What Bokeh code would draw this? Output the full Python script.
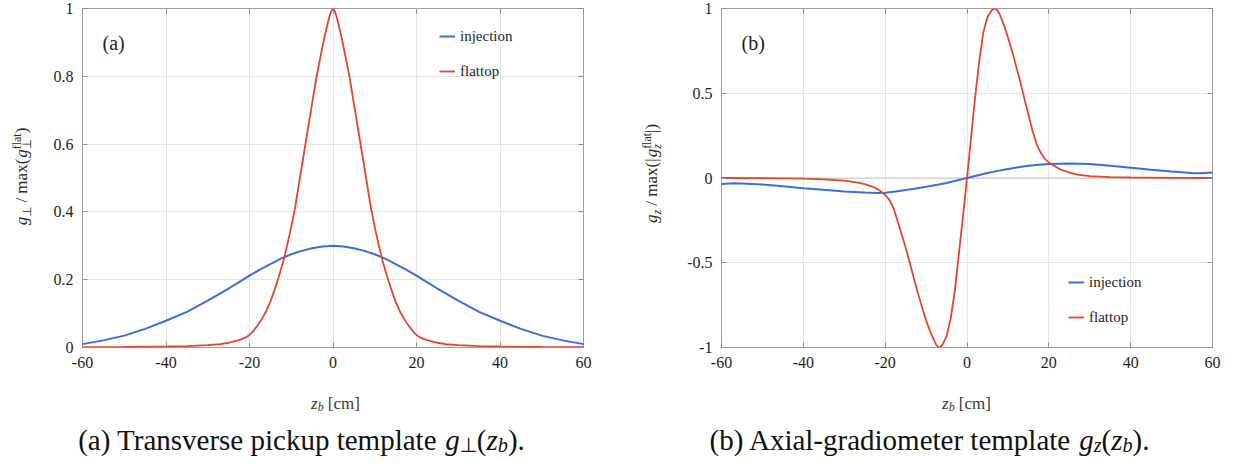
import math
from bokeh.plotting import figure
from bokeh.models import (Range1d, LinearAxis, Legend, LegendItem, Label, Span,
                          FixedTicker)
from bokeh.layouts import row, column
from bokeh.embed import file_html
from bokeh.resources import INLINE

# ---------------- data ----------------
# panel (a): transverse pickup template
z_inj_a = [-60, -55, -50, -45, -40, -35, -30, -25, -22.5, -20, -17.5, -15, -12.5, -10, -7.5, -5,
           -2.5, 0, 2.5, 5, 7.5, 10, 12.5, 15, 17.5, 20, 22.5, 25, 30, 35, 40, 45, 50, 55, 60]
g_inj_a = [0.010, 0.021, 0.035, 0.055, 0.079, 0.105, 0.138, 0.174, 0.193, 0.212, 0.230, 0.246,
           0.262, 0.275, 0.285, 0.293, 0.298, 0.300, 0.298, 0.293, 0.285, 0.275, 0.262, 0.246,
           0.230, 0.212, 0.193, 0.174, 0.138, 0.105, 0.079, 0.055, 0.035, 0.021, 0.010]

z_flat_a = [-60, -50, -40, -35, -30, -27, -25, -23, -22, -21, -20, -19, -18, -17, -16, -15, -14,
            -13, -12, -11, -10, -9, -8, -7, -6, -5, -4, -3, -2, -1, -0.5, 0,
            0.5, 1, 2, 3, 4, 5, 6, 7, 8, 9, 10, 11, 12, 13, 14, 15, 16, 17, 18, 19, 20, 21, 22, 23,
            25, 27, 30, 35, 40, 50, 60]
g_flat_a = [0.001, 0.0015, 0.003, 0.004, 0.007, 0.010, 0.014, 0.020, 0.024, 0.029, 0.037, 0.050,
            0.066, 0.085, 0.107, 0.135, 0.170,
            0.208, 0.250, 0.300, 0.355, 0.418, 0.495, 0.570, 0.645, 0.720, 0.795, 0.858, 0.918,
            0.970, 0.990, 1.000,
            0.990, 0.970, 0.918, 0.858, 0.795, 0.720, 0.645, 0.570, 0.495, 0.418, 0.355, 0.300,
            0.250, 0.208, 0.170, 0.135, 0.107, 0.085, 0.066, 0.050, 0.037, 0.029, 0.024, 0.020,
            0.014, 0.010, 0.007, 0.004, 0.003, 0.0015, 0.001]

# panel (b): axial-gradiometer template
z_inj_b = [-60, -57, -55, -50, -45, -40, -35, -30, -25, -22, -20, -17.5, -15, -12.5, -10, -7.5,
           -5, -2.5, 0, 2.5, 5, 7.5, 10, 12.5, 15, 17.5, 20, 25, 30, 35, 40, 45, 50, 55, 57, 60]
g_inj_b = [-0.035, -0.031, -0.032, -0.039, -0.049, -0.060, -0.070, -0.079, -0.086, -0.088,
           -0.087, -0.080, -0.071, -0.062, -0.052, -0.041, -0.030, -0.015, 0.000,
           0.015, 0.029, 0.042, 0.053, 0.063, 0.072, 0.078, 0.083, 0.086, 0.082, 0.072, 0.060,
           0.048, 0.038, 0.030, 0.028, 0.033]

z_flat_b = [-60, -50, -40, -35, -30, -27, -25, -23, -22, -21, -20, -19, -18, -17, -16, -15, -14,
            -13, -12, -11, -10, -9, -8, -7.5, -7, -6.5, -6, -5, -4, -3, -2, -1, 0,
            1, 2, 3, 4, 5, 6, 6.5, 7, 7.5, 8, 9, 10, 11, 12, 13, 14, 15, 16, 17, 18, 19, 20, 21,
            22, 23, 25, 27, 30, 35, 40, 50, 60]
g_flat_b = [0.0, -0.001, -0.004, -0.008, -0.016, -0.026, -0.036, -0.052, -0.064, -0.080, -0.100,
            -0.127, -0.175, -0.250, -0.330, -0.410, -0.500,
            -0.590, -0.680, -0.760, -0.840, -0.905, -0.960, -0.985, -0.998, -0.997, -0.985,
            -0.935, -0.830, -0.670, -0.450, -0.230, 0.000,
            0.240, 0.480, 0.690, 0.860, 0.950, 0.988, 0.998, 0.998, 0.988, 0.965, 0.905, 0.830,
            0.750, 0.660, 0.570, 0.470, 0.375, 0.280, 0.200, 0.150, 0.113, 0.092, 0.077,
            0.062, 0.049, 0.031, 0.020, 0.011, 0.005, 0.003, 0.001, 0.0]

x_ticks = [-60, -40, -20, 0, 20, 40, 60]
x_tick_labels = ["-60", "-40", "-20", "0", "20", "40", "60"]
y_ticks_a = [0, 0.2, 0.4, 0.6, 0.8, 1]
y_tick_labels_a = ["0", "0.2", "0.4", "0.6", "0.8", "1"]
y_ticks_b = [-1, -0.5, 0, 0.5, 1]
y_tick_labels_b = ["-1", "-0.5", "0", "0.5", "1"]

series_names = ["injection", "flattop"]

# ---------------- styles ----------------
SERIF = "Liberation Serif"
SYM = "DejaVu Sans"
BLUE = "#3c6ddb"
RED = "#e0472c"
TXT = "#1e1e1e"
TOP_ROW_H, BORDER_TOP, BORDER_BOTTOM = 385, 8, 38

ROMAN = {' ': .25, '(': .333, ')': .333, '.': .25, '-': .333, '/': .278, '[': .333, ']': .333,
         '|': .2, 'A': .722, 'T': .611, 'a': .444, 'b': .5, 'c': .444, 'd': .5, 'e': .444,
         'f': .333, 'g': .5, 'i': .278, 'k': .5, 'l': .278, 'm': .778, 'n': .5, 'o': .5,
         'p': .5, 'r': .333, 's': .389, 't': .278, 'u': .5, 'v': .5, 'x': .5}
ITALIC = {'g': .5, 'z': .389, 'b': .5}


def piece_width(txt, italic, font, size):
    if font == SYM:
        return 0.838 * size * len(txt)
    table = ITALIC if italic else ROMAN
    return sum(table.get(c, 0.5) for c in txt) * size


def compose(p, pieces, ax, ay, size, rotated=False, color=TXT):
    """Place a run of text pieces (normal / sub / stacked sup) centred on (ax, ay)."""
    items = []
    pos = 0.0
    last_start, last_end = 0.0, 0.0
    for piece in pieces:
        txt, kind, italic, font = piece[:4]
        pre = piece[4] if len(piece) > 4 else 0.0
        fs = size * 0.7 if kind != "n" else size
        w = piece_width(txt, italic, font, fs)
        if kind == "supstack":
            start = last_start
            off = 0.42 * size
            end = max(last_end, start + w)
        else:
            start = pos + pre * size
            off = {"n": 0.0, "sub": -0.2 * size, "sup": 0.42 * size}[kind]
            end = start + w
        lead = len(txt) - len(txt.lstrip(" "))
        shift = piece_width(" " * lead, italic, font, fs) if lead else 0.0
        items.append((txt.strip(" "), italic, font, fs, start + shift, off))
        last_start, last_end = start, end
        pos = max(pos, end)
    total = pos
    for txt, italic, font, fs, start, off in items:
        style = "italic" if italic else "normal"
        if rotated:
            asc = 0.9 * fs
            x = ax - off - asc
            y = ay - total / 2 + start
            p.add_layout(Label(x=x, y=y, text=txt, text_font=font,
                               text_font_size=f"{fs:.1f}px", text_font_style=style,
                               text_color=color, text_baseline="top",
                               text_align="left", angle=math.pi / 2))
        else:
            x, y = ax - total / 2 + start, ay + off
            p.add_layout(Label(x=x, y=y, text=txt, text_font=font,
                               text_font_size=f"{fs:.1f}px", text_font_style=style,
                               text_color=color, text_baseline="alphabetic",
                               text_align="left"))


def blank(w, h, bt=0, bb=0):
    # data units = pixels measured from the bottom-left corner of the canvas
    b = figure(width=w, height=h, x_range=Range1d(0, w), y_range=Range1d(bb, h - bt),
               x_axis_type=None, y_axis_type=None, output_backend="svg",
               toolbar_location=None, min_border_left=0, min_border_right=0,
               min_border_top=bt, min_border_bottom=bb, outline_line_color=None,
               background_fill_color="white", border_fill_color="white")
    return b


def style_axis(ax, ticks, labels=None):
    ax.ticker = FixedTicker(ticks=ticks)
    ax.major_tick_in = 5
    ax.major_tick_out = 0
    ax.minor_tick_line_color = None
    ax.axis_line_color = None
    ax.major_tick_line_color = "#8c8c8c"
    ax.major_label_text_font = SERIF
    if labels is None:
        ax.major_label_text_color = None
        ax.major_label_text_font_size = "1px"
        ax.major_label_standoff = 0
    else:
        ax.major_label_text_color = TXT
        ax.major_label_text_font_size = "16px"
        ax.major_label_standoff = 9
        ax.major_label_overrides = {t: l for t, l in zip(ticks, labels)}


def make_panel(width, yr, yticks, ylabels, borders, legend_loc, tag, zinj, ginj, zflat, gflat):
    bl, br = borders
    p = figure(width=width, height=TOP_ROW_H, x_range=Range1d(-60, 60), y_range=Range1d(*yr),
               output_backend="svg", toolbar_location=None,
               min_border_left=bl, min_border_right=br, min_border_top=BORDER_TOP,
               min_border_bottom=BORDER_BOTTOM,
               background_fill_color="white", border_fill_color="white",
               outline_line_color="#a0a0a0", outline_line_width=1)
    style_axis(p.xaxis[0], x_ticks, x_tick_labels)
    style_axis(p.yaxis[0], yticks, ylabels)
    top = LinearAxis()
    style_axis(top, x_ticks)
    p.add_layout(top, "above")
    right = LinearAxis()
    style_axis(right, yticks)
    p.add_layout(right, "right")
    p.xgrid.ticker = FixedTicker(ticks=x_ticks)
    p.ygrid.ticker = FixedTicker(ticks=yticks)
    for g in (p.xgrid, p.ygrid):
        g.grid_line_color = "#e6e6e6"
        g.grid_line_width = 1
    r1 = p.line(zinj, ginj, line_color=BLUE, line_width=2.0)
    r2 = p.line(zflat, gflat, line_color=RED, line_width=1.8)
    leg = Legend(items=[LegendItem(label=series_names[0], renderers=[r1]),
                        LegendItem(label=series_names[1], renderers=[r2])],
                 location=legend_loc, border_line_color=None, background_fill_alpha=0,
                 padding=0, margin=0, spacing=15, glyph_width=16, glyph_height=20,
                 label_height=20, label_standoff=5, label_text_font=SERIF,
                 label_text_font_size="15px", label_text_color=TXT)
    p.add_layout(leg)
    p.add_layout(Label(x=20, y=305, x_units="screen", y_units="screen", text=tag,
                       text_font=SERIF, text_font_size="20px", text_color=TXT,
                       text_baseline="alphabetic"))
    return p


pa = make_panel(568, (0, 1), y_ticks_a, y_tick_labels_a, (32, 35), (357, 266), "(a)",
                z_inj_a, g_inj_a, z_flat_a, g_flat_a)
pb = make_panel(558, (-1, 1), y_ticks_b, y_tick_labels_b, (43, 24), (347, 20), "(b)",
                z_inj_b, g_inj_b, z_flat_b, g_flat_b)
pb.add_layout(Span(location=0, dimension="width", line_color="#9a9a9a", line_width=1,
                   line_dash="1 1", level="underlay"))

# y-axis label strips (same top/bottom borders as the panels next to them)
ya = blank(50, TOP_ROW_H, BORDER_TOP, BORDER_BOTTOM)
yb = blank(60, TOP_ROW_H, BORDER_TOP, BORDER_BOTTOM)
ylab_a = [("g", "n", True, SERIF), ("\u22a5", "sub", False, SYM), (" / max(", "n", False, SERIF),
          ("g", "n", True, SERIF, 0.06), ("\u22a5", "sub", False, SYM),
          ("flat", "supstack", False, SERIF), (")", "n", False, SERIF)]
ylab_b = [("g", "n", True, SERIF), ("z", "sub", True, SERIF), (" / max(|", "n", False, SERIF),
          ("g", "n", True, SERIF, 0.06), ("z", "sub", True, SERIF),
          ("flat", "supstack", False, SERIF), ("|)", "n", False, SERIF)]
compose(ya, ylab_a, 27, 209, 17, rotated=True, color="#2a2a2a")
compose(yb, ylab_b, 39, 212, 17, rotated=True, color="#2a2a2a")

# x-axis labels and captions strip
ca = blank(618, 81)
cb = blank(618, 81)
xlab = [("z", "n", True, SERIF), ("b", "sub", True, SERIF), (" [cm]", "n", False, SERIF)]
compose(ca, xlab, 335, 63, 17, color="#3a3a3a")
compose(cb, xlab, 348, 63, 17, color="#3a3a3a")

cap_a = [("(a) Transverse pickup template ", "n", False, SERIF), ("g", "n", True, SERIF),
         ("\u22a5", "sub", False, SYM), ("(", "n", False, SERIF), ("z", "n", True, SERIF),
         ("b", "sub", True, SERIF), (").", "n", False, SERIF)]
cap_b = [("(b) Axial-gradiometer template ", "n", False, SERIF), ("g", "n", True, SERIF),
         ("z", "sub", True, SERIF), ("(", "n", False, SERIF), ("z", "n", True, SERIF),
         ("b", "sub", True, SERIF), (").", "n", False, SERIF)]
compose(ca, cap_a, 301, 27, 29, color="#111111")
compose(cb, cap_b, 311, 27, 29, color="#111111")

layout = column(row(ya, pa, yb, pb, spacing=0), row(ca, cb, spacing=0), spacing=0)
open("out.html", "w").write(file_html(layout, INLINE))
